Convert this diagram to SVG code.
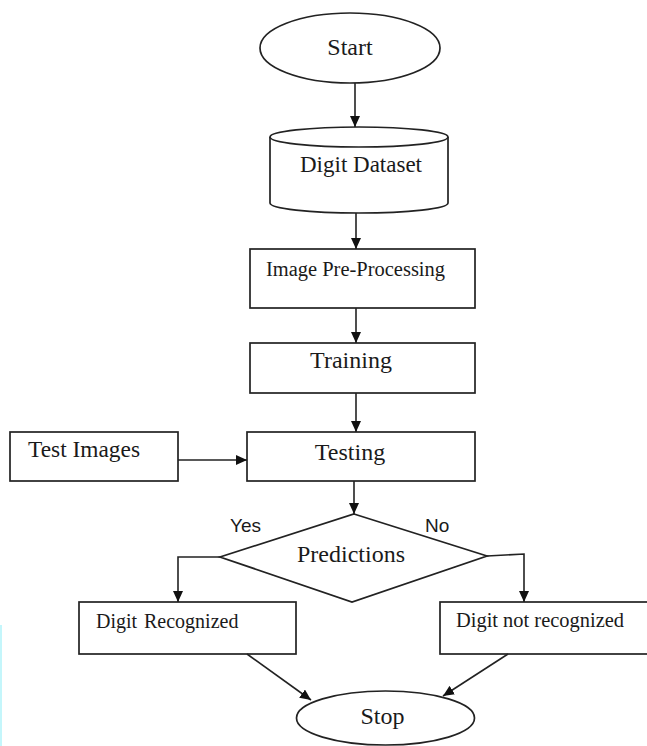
<svg xmlns="http://www.w3.org/2000/svg" width="647" height="746" viewBox="0 0 647 746">
<style>
.shape{fill:#fff;stroke:#222;stroke-width:1.7}
.conn{fill:none;stroke:#222;stroke-width:1.6}
.t{font-family:"Liberation Serif","Times New Roman",serif;fill:#1a1a1a}
.s{font-family:"Liberation Sans",Arial,sans-serif;fill:#1a1a1a}
</style>
<defs>
<marker id="ah" markerUnits="userSpaceOnUse" markerWidth="12" markerHeight="10" refX="11" refY="5" orient="auto">
<path d="M0,0 L11,5 L0,10 z" fill="#111"/>
</marker>
</defs>
<rect x="0" y="0" width="647" height="746" fill="#fff"/>
<rect x="0" y="625" width="2" height="121" fill="#c4f6fb"/>
<g id="start">
<ellipse class="shape" cx="350" cy="48" rx="90" ry="35"/>
<text class="t" x="350" y="55" font-size="24" text-anchor="middle">Start</text>
</g>
<g id="dataset">
<path class="shape" d="M270,137 L270,203 A89,10 0 0 0 448,203 L448,137"/>
<ellipse class="shape" cx="359" cy="137" rx="89" ry="10"/>
<text class="t" x="361" y="172" font-size="23" text-anchor="middle">Digit Dataset</text>
</g>
<g id="preprocessing">
<rect class="shape" x="250" y="249" width="225" height="59"/>
<text class="t" x="266" y="276" font-size="20" textLength="179" lengthAdjust="spacingAndGlyphs">Image Pre-Processing</text>
</g>
<g id="training">
<rect class="shape" x="250" y="343" width="225" height="50"/>
<text class="t" x="351" y="368" font-size="24" text-anchor="middle">Training</text>
</g>
<g id="testimages">
<rect class="shape" x="10" y="432" width="168" height="49"/>
<text class="t" x="28" y="457" font-size="23" textLength="112" lengthAdjust="spacingAndGlyphs">Test Images</text>
</g>
<g id="testing">
<rect class="shape" x="247" y="432" width="228" height="49"/>
<text class="t" x="350" y="460" font-size="24" text-anchor="middle">Testing</text>
</g>
<g id="predictions">
<polygon class="shape" points="354,514 487,556 352,602 220,557"/>
<text class="t" x="351" y="562" font-size="24" text-anchor="middle">Predictions</text>
</g>
<g id="recognized">
<rect class="shape" x="79" y="602" width="217" height="52"/>
<text class="t" y="628" font-size="20"><tspan x="96">Digit</tspan><tspan x="144">Recognized</tspan></text>
</g>
<g id="notrecognized">
<rect class="shape" x="440" y="602" width="212" height="52"/>
<text class="t" x="456" y="627" font-size="20" textLength="168" lengthAdjust="spacingAndGlyphs">Digit not recognized</text>
</g>
<g id="stop">
<ellipse class="shape" cx="385.5" cy="718" rx="89" ry="27"/>
<text class="t" x="382.5" y="724" font-size="24" text-anchor="middle">Stop</text>
</g>
<g id="connectors">
<line class="conn" x1="355" y1="83" x2="355" y2="127" marker-end="url(#ah)"/>
<line class="conn" x1="356" y1="213" x2="356" y2="249" marker-end="url(#ah)"/>
<line class="conn" x1="356" y1="308" x2="356" y2="343" marker-end="url(#ah)"/>
<line class="conn" x1="356" y1="393" x2="356" y2="432" marker-end="url(#ah)"/>
<line class="conn" x1="178" y1="460" x2="247" y2="460" marker-end="url(#ah)"/>
<line class="conn" x1="354" y1="481" x2="354" y2="514" marker-end="url(#ah)"/>
<polyline class="conn" points="220,557 178,557 178,602" marker-end="url(#ah)"/>
<polyline class="conn" points="487,556 524,554 524,602" marker-end="url(#ah)"/>
<line class="conn" x1="247" y1="654" x2="311" y2="700" marker-end="url(#ah)"/>
<line class="conn" x1="508" y1="654" x2="443" y2="696" marker-end="url(#ah)"/>
<text class="s" x="230" y="532" font-size="19">Yes</text>
<text class="s" x="425" y="532" font-size="19">No</text>
</g>
</svg>
